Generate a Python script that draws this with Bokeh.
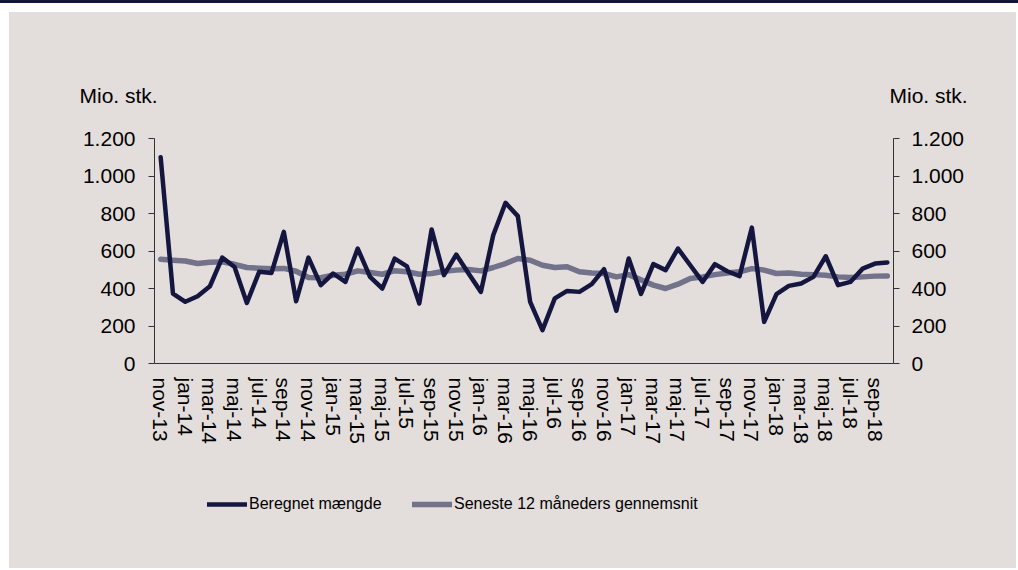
import math
from bokeh.plotting import figure
from bokeh.models import (LinearAxis, Range1d, FixedTicker, Label, Legend, LegendItem,
                          ColumnDataSource, Div)
from bokeh.layouts import column
from bokeh.embed import file_html
from bokeh.resources import INLINE

months = ["nov-13", "dec-13",
          "jan-14", "feb-14", "mar-14", "apr-14", "maj-14", "jun-14", "jul-14", "aug-14", "sep-14", "okt-14", "nov-14", "dec-14",
          "jan-15", "feb-15", "mar-15", "apr-15", "maj-15", "jun-15", "jul-15", "aug-15", "sep-15", "okt-15", "nov-15", "dec-15",
          "jan-16", "feb-16", "mar-16", "apr-16", "maj-16", "jun-16", "jul-16", "aug-16", "sep-16", "okt-16", "nov-16", "dec-16",
          "jan-17", "feb-17", "mar-17", "apr-17", "maj-17", "jun-17", "jul-17", "aug-17", "sep-17", "okt-17", "nov-17", "dec-17",
          "jan-18", "feb-18", "mar-18", "apr-18", "maj-18", "jun-18", "jul-18", "aug-18", "sep-18", "okt-18"]

beregnet = [1100, 373, 329, 359, 412, 565, 515, 323, 489, 483, 702, 332, 565, 418,
            480, 435, 613, 462, 400, 559, 518, 320, 715, 471, 581, 480,
            382, 684, 857, 786, 329, 178, 347, 387, 382, 423, 503, 281,
            560, 371, 530, 498, 613, 524, 435, 530, 492, 466, 725, 222,
            370, 414, 427, 462, 572, 418, 435, 506, 533, 539]

gennemsnit = [556, 551, 547, 533, 540, 542, 529, 512, 508, 505, 507, 492, 459, 457,
              471, 476, 494, 485, 476, 495, 489, 476, 480, 492, 498, 501,
              494, 512, 533, 560, 551, 524, 512, 516, 489, 483, 480, 462,
              474, 446, 418, 400, 423, 453, 462, 474, 483, 489, 506, 498,
              480, 483, 476, 474, 471, 462, 459, 462, 466, 467]

y_ticks = [0, 200, 400, 600, 800, 1000, 1200]
y_tick_labels = ["0", "200", "400", "600", "800", "1.000", "1.200"]
unit_label = "Mio. stk."
series_names = ["Beregnet mængde", "Seneste 12 måneders gennemsnit"]

BG = "#e3dddb"
DARK = "#15163f"
GRAY = "#72728a"
AXIS = "#333333"
BAND = "#12143a"
FONT = "Liberation Sans"
W = 1007


def strip(height, xr, yr, margin):
    f = figure(width=W, height=height, output_backend="svg", toolbar_location=None,
               x_range=xr, y_range=yr, x_axis_type=None, y_axis_type=None,
               min_border=0, min_border_left=0, min_border_right=0,
               min_border_top=0, min_border_bottom=0,
               background_fill_color=BG, border_fill_color=BG, outline_line_color=None,
               margin=margin, frame_align=False, styles={"background-color": BG})
    f.grid.visible = False
    return f


# ---------------- header strip with unit labels ----------------
HEAD_H = 100
head = strip(HEAD_H, Range1d(0, W), Range1d(HEAD_H, 0), (9, 0, 0, 9))
for xs in (70, 880):
    head.add_layout(Label(x=xs, y=83, text=unit_label,
                          text_font=FONT, text_font_size="21px", text_color="black",
                          text_align="left", text_baseline="alphabetic"))

# ---------------- main chart ----------------
idx = list(range(len(months)))
src = ColumnDataSource(dict(x=idx, b=beregnet, g=gennemsnit))

p = figure(width=W, height=356, output_backend="svg", toolbar_location=None,
           x_range=Range1d(-0.5, len(months) - 0.5), y_range=Range1d(0, 1200),
           min_border_left=145, min_border_right=123, min_border_top=26, min_border_bottom=105,
           background_fill_color=BG, border_fill_color=BG, outline_line_color=None,
           margin=(0, 0, 0, 9), frame_align=False, styles={"background-color": BG})
p.grid.visible = False

r2 = p.line("x", "g", source=src, line_color=GRAY, line_width=5.5,
            line_join="round", line_cap="round")
r1 = p.line("x", "b", source=src, line_color=DARK, line_width=4.5,
            line_join="round", line_cap="round")

xa = p.xaxis[0]
xa.ticker = FixedTicker(ticks=idx[::2])
xa.major_label_overrides = {i: months[i] for i in idx[::2]}
xa.major_label_orientation = -math.pi / 2
xa.major_tick_out = 0
xa.major_tick_in = 0
xa.minor_tick_out = 0
xa.minor_tick_in = 0
xa.major_label_standoff = 14
xa.axis_line_color = AXIS
xa.major_label_text_font = FONT
xa.major_label_text_font_size = "21px"
xa.major_label_text_color = "black"

ya = p.yaxis[0]
ra = LinearAxis()
p.add_layout(ra, "right")
for ax, st in ((ya, 13), (ra, 12)):
    ax.ticker = FixedTicker(ticks=y_ticks)
    ax.major_label_overrides = dict(zip(y_ticks, y_tick_labels))
    ax.major_tick_out = 6
    ax.major_tick_in = 0
    ax.minor_tick_out = 0
    ax.minor_tick_in = 0
    ax.major_label_standoff = st
    ax.axis_line_color = AXIS
    ax.major_tick_line_color = AXIS
    ax.major_label_text_font = FONT
    ax.major_label_text_font_size = "21px"
    ax.major_label_text_color = "black"

# ---------------- legend strip ----------------
LEG_H = 100
leg = strip(LEG_H, Range1d(0, 1), Range1d(0, 1), (0, 0, 0, 9))
nan = float("nan")
l1 = leg.line(x=[nan], y=[nan], line_color=DARK, line_width=4.5, line_cap="round")
l2 = leg.line(x=[nan], y=[nan], line_color=GRAY, line_width=5.5, line_cap="round")
legend = Legend(items=[LegendItem(label=series_names[0], renderers=[l1]),
                       LegendItem(label=series_names[1], renderers=[l2])],
                location=(198, 54), orientation="horizontal",
                glyph_width=40, glyph_height=20, label_height=20, label_width=150,
                label_standoff=2, spacing=13, padding=0, margin=0,
                border_line_color=None, background_fill_alpha=0,
                label_text_font=FONT, label_text_font_size="16px", label_text_color="black")
leg.add_layout(legend, "center")

band = Div(text="", width=1018, height=3, margin=0,
           styles={"background-color": BAND})

layout = column(band, head, p, leg, spacing=0, margin=0)

open("out.html", "w").write(file_html(layout, INLINE))
